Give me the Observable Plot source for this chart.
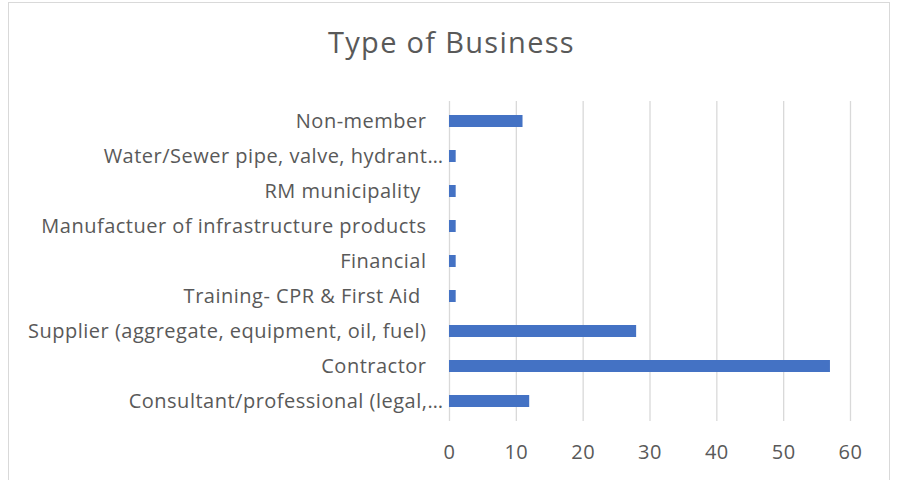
<!DOCTYPE html>
<html><head><meta charset="utf-8">
<script src="https://cdn.jsdelivr.net/npm/d3@7"></script>
<script src="https://cdn.jsdelivr.net/npm/@observablehq/plot@0.6"></script>
<style>
body{margin:0;background:#fff;}
#wrap{position:relative;width:897px;height:480px;overflow:hidden;font-family:"Open Sans",Lato,sans-serif;background:#fff;}
#frame{position:absolute;left:8px;top:2px;width:882px;height:540px;border:1.5px solid #d9d9d9;box-sizing:border-box;}
#title{position:absolute;left:3px;top:24px;width:897px;text-align:center;font-size:29px;letter-spacing:1.3px;line-height:36px;color:#595959;font-weight:400;}
#chart{position:absolute;left:0;top:95px;}
#chart text{white-space:pre;letter-spacing:0.5px;}
</style></head>
<body>
<div id="wrap"><div id="frame"></div><div id="title">Type of Business</div><div id="chart"></div></div>
<script>
const categories = [
  "Non-member",
  "Water/Sewer pipe, valve, hydrant…",
  "RM municipality ",
  "Manufactuer of infrastructure products",
  "Financial",
  "Training- CPR & First Aid ",
  "Supplier (aggregate, equipment, oil, fuel)",
  "Contractor",
  "Consultant/professional (legal,…"
];
const counts = [11, 1, 1, 1, 1, 1, 28, 57, 12];
const xTicks = [0, 10, 20, 30, 40, 50, 60];

const data = categories.map((c, i) => ({category: c, count: counts[i]}));

const chart = Plot.plot({
  width: 897,
  height: 385,
  marginLeft: 449,
  marginRight: 47,
  marginTop: 6,
  marginBottom: 59,
  style: {fontFamily: "'Open Sans', Lato, sans-serif", fontSize: "20px", color: "#595959", background: "transparent", overflow: "visible"},
  x: {domain: [0, 60]},
  y: {domain: categories, paddingInner: 0.65, paddingOuter: 0.325},
  marks: [
    Plot.gridX(xTicks, {stroke: "#d9d9d9", strokeOpacity: 1, strokeWidth: 1.3}),
    Plot.barX(data, {x: "count", y: "category", fill: "#4472C4"}),
    Plot.axisX(xTicks, {tickSize: 0, tickPadding: 23, label: null, fill: "#595959"}),
    Plot.axisY({tickSize: 0, tickPadding: 23, label: null, fill: "#595959"})
  ]
});
document.getElementById("chart").appendChild(chart);
d3.select(chart).selectAll("text").filter(function(){ return this.textContent.endsWith("…"); }).attr("dx", 17);
</script>
</body></html>
